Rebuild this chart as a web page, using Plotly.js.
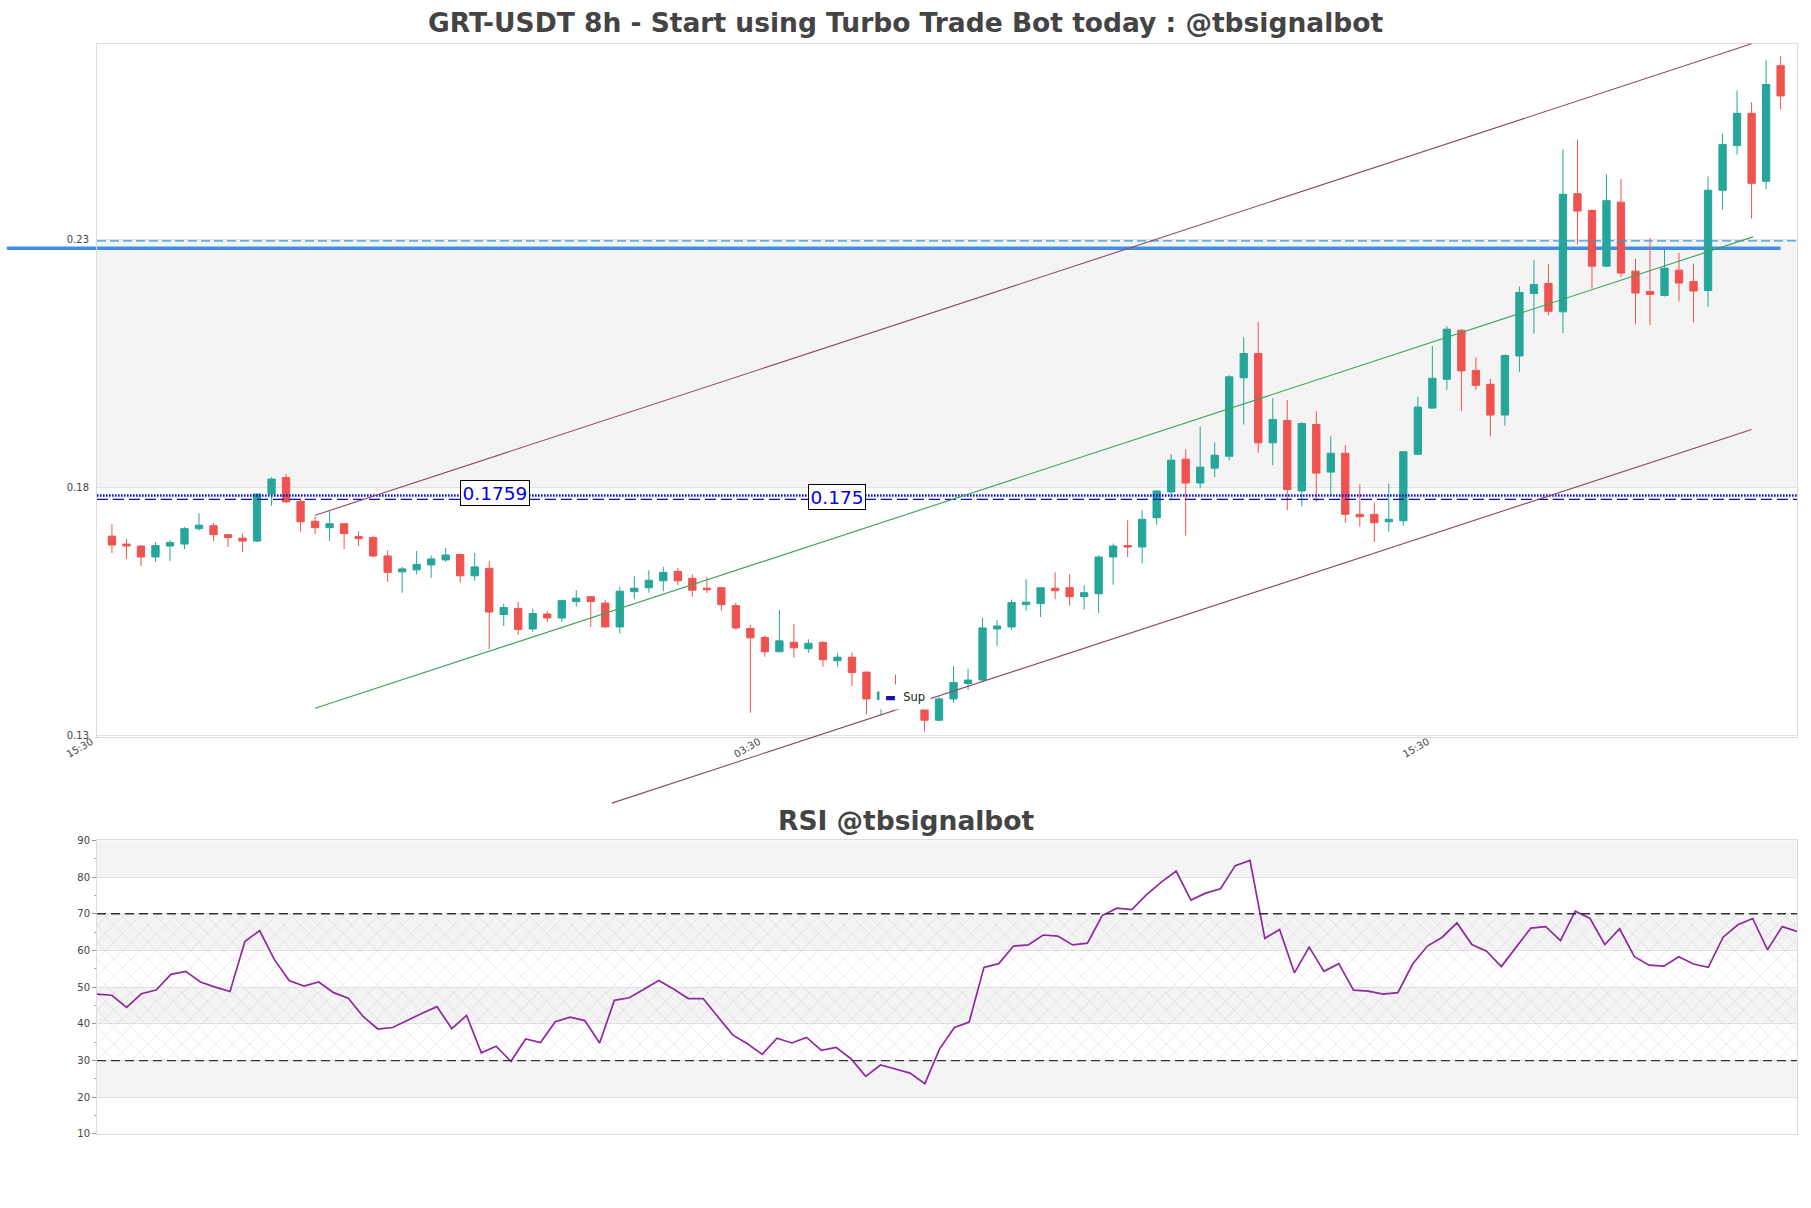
<!DOCTYPE html>
<html><head><meta charset="utf-8">
<script src="https://cdn.plot.ly/plotly-3.0.1.min.js"></script>
<style>html,body{margin:0;padding:0;background:#fff}#chart{width:1811px;height:1208px}</style>
</head><body><div id="chart"></div>
<script>
// ---------- DATA ----------
const openP = [0.1702,0.1686,0.1682,0.1660,0.1682,0.1686,0.1717,0.1723,0.1705,0.1698,
0.1692,0.1787,0.1820,0.1772,0.1732,0.1719,0.1727,0.1701,0.1699,0.1662,
0.1630,0.1634,0.1644,0.1654,0.1665,0.1622,0.1637,0.1544,0.1556,0.1515,
0.1545,0.1537,0.1570,0.1580,0.1567,0.1519,0.1590,0.1598,0.1612,0.1631,
0.1617,0.1597,0.1598,0.1562,0.1516,0.1498,0.1469,0.1488,0.1475,0.1488,
0.1451,0.1458,0.1428,0.1373,0.1392,0.1378,0.1358,0.1331,0.1374,0.1405,
0.1412,0.1515,0.1519,0.1564,0.1566,0.1597,0.1598,0.1580,0.1586,0.1660,
0.1683,0.1680,0.1739,0.1791,0.1857,0.1809,0.1839,0.1863,0.2021,0.2070,
0.1890,0.1935,0.1793,0.1927,0.1831,0.1869,0.1746,0.1746,0.1731,0.1733,
0.1867,0.1960,0.2018,0.2117,0.2036,0.2008,0.1946,0.2065,0.2191,0.2211,
0.2154,0.2392,0.2358,0.2246,0.2375,0.2236,0.2195,0.2187,0.2238,0.2215,
0.2197,0.2399,0.2489,0.2554,0.2417,0.2650];
const highP = [0.1726,0.1696,0.1684,0.1690,0.1694,0.1720,0.1748,0.1728,0.1706,0.1707,
0.1788,0.1821,0.1827,0.1779,0.1742,0.1753,0.1728,0.1712,0.1703,0.1673,
0.1640,0.1672,0.1663,0.1678,0.1667,0.1668,0.1652,0.1566,0.1569,0.1556,
0.1551,0.1574,0.1593,0.1581,0.1574,0.1600,0.1621,0.1633,0.1640,0.1638,
0.1625,0.1620,0.1600,0.1568,0.1523,0.1502,0.1553,0.1525,0.1494,0.1490,
0.1466,0.1467,0.1429,0.1403,0.1423,0.1400,0.1367,0.1378,0.1440,0.1435,
0.1538,0.1533,0.1574,0.1615,0.1599,0.1629,0.1625,0.1603,0.1663,0.1687,
0.1734,0.1754,0.1795,0.1867,0.1877,0.1923,0.1891,0.2026,0.2103,0.2133,
0.1980,0.1976,0.1932,0.1954,0.1903,0.1885,0.1806,0.1770,0.1808,0.1873,
0.1983,0.2085,0.2125,0.2119,0.2062,0.2019,0.2068,0.2205,0.2258,0.2250,
0.2481,0.2501,0.2361,0.2431,0.2421,0.2261,0.2303,0.2281,0.2273,0.2251,
0.2427,0.2513,0.2600,0.2576,0.2662,0.2669];
const lowP = [0.1668,0.1656,0.1642,0.1650,0.1652,0.1676,0.1713,0.1692,0.1680,0.1670,
0.1690,0.1763,0.1769,0.1711,0.1706,0.1692,0.1676,0.1682,0.1660,0.1610,
0.1588,0.1625,0.1618,0.1650,0.1608,0.1612,0.1474,0.1521,0.1503,0.1509,
0.1529,0.1529,0.1560,0.1519,0.1518,0.1506,0.1575,0.1588,0.1591,0.1603,
0.1580,0.1587,0.1552,0.1513,0.1346,0.1459,0.1468,0.1457,0.1467,0.1439,
0.1439,0.1400,0.1343,0.1341,0.1371,0.1354,0.1308,0.1329,0.1366,0.1392,
0.1410,0.1481,0.1513,0.1552,0.1539,0.1575,0.1562,0.1554,0.1547,0.1604,
0.1660,0.1647,0.1725,0.1774,0.1703,0.1798,0.1821,0.1855,0.1927,0.1870,
0.1845,0.1754,0.1762,0.1771,0.1782,0.1729,0.1721,0.1690,0.1711,0.1723,
0.1865,0.1959,0.1997,0.1954,0.1997,0.1903,0.1925,0.2033,0.2110,0.2147,
0.2111,0.2290,0.2201,0.2244,0.2224,0.2129,0.2127,0.2185,0.2175,0.2133,
0.2164,0.2360,0.2471,0.2342,0.2401,0.2562];
const closeP = [0.1684,0.1682,0.1660,0.1683,0.1689,0.1717,0.1724,0.1705,0.1699,0.1692,
0.1787,0.1817,0.1771,0.1731,0.1719,0.1727,0.1707,0.1697,0.1662,0.1629,
0.1636,0.1645,0.1656,0.1664,0.1622,0.1640,0.1549,0.1558,0.1514,0.1546,
0.1537,0.1572,0.1577,0.1570,0.1519,0.1591,0.1597,0.1613,0.1629,0.1612,
0.1593,0.1594,0.1564,0.1517,0.1497,0.1469,0.1491,0.1477,0.1486,0.1453,
0.1458,0.1427,0.1374,0.1388,0.1378,0.1360,0.1331,0.1374,0.1407,0.1412,
0.1517,0.1521,0.1568,0.1569,0.1598,0.1592,0.1580,0.1588,0.1660,0.1682,
0.1680,0.1736,0.1793,0.1855,0.1809,0.1841,0.1865,0.2023,0.2070,0.1890,
0.1937,0.1796,0.1929,0.1829,0.1869,0.1746,0.1741,0.1729,0.1736,0.1872,
0.1962,0.2020,0.2119,0.2035,0.2006,0.1946,0.2066,0.2193,0.2209,0.2155,
0.2391,0.2357,0.2246,0.2378,0.2232,0.2192,0.2189,0.2242,0.2212,0.2196,
0.2399,0.2491,0.2554,0.2413,0.2612,0.2589];
const rsiValues = [48.1,47.8,44.5,48.2,49.2,53.5,54.3,51.4,50.0,48.8,
62.4,65.4,57.5,51.8,50.3,51.4,48.5,47.0,42.0,38.6,
39.0,41.0,42.9,44.7,38.7,42.3,32.1,33.9,29.8,35.9,
34.9,40.6,41.8,40.9,34.8,46.4,47.1,49.4,51.8,49.5,
46.9,46.9,42.0,37.0,34.6,31.7,36.1,34.8,36.3,32.8,
33.6,30.5,25.7,28.8,27.7,26.6,23.7,33.2,39.0,40.5,
55.4,56.4,61.2,61.5,64.2,63.9,61.5,62.0,69.5,71.5,
71.1,75.2,78.6,81.6,73.7,75.6,76.8,83.1,84.5,63.3,
65.7,53.9,60.9,54.3,56.4,49.2,48.9,48.1,48.5,56.3,
61.2,63.6,67.5,61.6,59.8,55.6,60.9,66.1,66.5,62.7,
70.7,68.7,61.6,65.9,58.3,56.0,55.7,58.3,56.3,55.4,
63.6,67.0,68.7,60.2,66.5,65.2];

const xTickVals = [-1.0, 45.0, 91.1];
const xTickText = ['15:30', '03:30', '15:30'];
const priceTicks = [0.13, 0.18, 0.23];
const rsiTicks = [10, 20, 30, 40, 50, 60, 70, 80, 90];

const resistanceSolid = 0.2282;
const resistanceDashed = 0.2297;
const supportDotted = 0.1784;
const supportDashed = 0.1776;
const levelLabels = [{x: 26.4, y: 0.1789, text: '0.1759'}, {x: 50.0, y: 0.1780, text: '0.175'}];
const channelUpper = {x: [14, 113], y: [0.1744, 0.2694]};
const channelMid   = {x: [14, 113.1], y: [0.1355, 0.2305]};
const channelLower = {x: [34.45, 113], y: [0.1164, 0.1917]};
const rsiOverbought = 70, rsiOversold = 30;

// ---------- LAYOUT GEOMETRY ----------
const xRange = [-1.03, 116.13];
const yRange = [0.12966, 0.26937];
const mainDomain = [0.36394, 1];
const rsiDomain = [0, 0.26945];
const FONT = 'DejaVu Sans';

const idx = openP.map((_, i) => i);
const rsiIdx = rsiValues.map((_, i) => i);

function paperY(p) {
  return mainDomain[0] + (p - yRange[0]) / (yRange[1] - yRange[0]) * (mainDomain[1] - mainDomain[0]);
}
function paperX(i) { return (i - xRange[0]) / (xRange[1] - xRange[0]); }

const traces = [
  {
    type: 'candlestick', x: idx, open: openP, high: highP, low: lowP, close: closeP,
    xaxis: 'x', yaxis: 'y', whiskerwidth: 0,
    increasing: {line: {color: '#26a69a', width: 1}, fillcolor: '#26a69a'},
    decreasing: {line: {color: '#ef5350', width: 1}, fillcolor: '#ef5350'},
    hoverinfo: 'skip', showlegend: false
  },
  {
    type: 'bar', x: [57.5], y: [rsiOverbought - rsiOversold], base: [rsiOversold], width: [115],
    xaxis: 'x2', yaxis: 'y2', hoverinfo: 'skip', showlegend: false,
    marker: {color: 'rgba(0,0,0,0)', line: {width: 0},
      pattern: {shape: 'x', fgcolor: 'rgba(200,150,215,0.55)', bgcolor: 'rgba(0,0,0,0)', size: 12, solidity: 0.07}}
  },
  {
    type: 'scatter', mode: 'lines', x: rsiIdx, y: rsiValues, xaxis: 'x2', yaxis: 'y2',
    line: {color: '#8e2a9e', width: 1.7}, hoverinfo: 'skip', showlegend: false
  }
];

const shapes = [];
shapes.push({type: 'rect', xref: 'x domain', yref: 'y', x0: 0, x1: 1, y0: 0.18, y1: 0.23,
  fillcolor: '#f4f4f4', line: {width: 0}, layer: 'below'});
[[80, 90], [60, 70], [40, 50], [20, 30]].forEach(b => shapes.push({type: 'rect', xref: 'x2 domain', yref: 'y2',
  x0: 0, x1: 1, y0: b[0], y1: b[1], fillcolor: '#f4f4f4', line: {width: 0}, layer: 'below'}));
shapes.push({type: 'line', xref: 'paper', yref: 'y', x0: -0.053, x1: paperX(idx.length - 1),
  y0: resistanceSolid, y1: resistanceSolid, line: {color: '#3f8fe6', width: 3.5}, layer: 'below'});
shapes.push({type: 'line', xref: 'paper', yref: 'y', x0: 0, x1: 1, y0: resistanceDashed, y1: resistanceDashed,
  line: {color: '#2b9fd6', width: 1.3, dash: '9px,4px'}});
shapes.push({type: 'line', xref: 'paper', yref: 'y', x0: 0, x1: 1, y0: supportDotted, y1: supportDotted,
  line: {color: '#1414d0', width: 2.6, dash: '1.6px,1.4px'}});
shapes.push({type: 'line', xref: 'paper', yref: 'y', x0: 0, x1: 1, y0: supportDashed, y1: supportDashed,
  line: {color: '#0c0ca8', width: 1.4, dash: '11px,5px'}});
[[channelUpper, '#8c4a66'], [channelMid, '#3aa35a'], [channelLower, '#8c4a66']].forEach(([c, col]) =>
  shapes.push({type: 'line', xref: 'x', yref: 'paper', x0: c.x[0], x1: c.x[1], y0: paperY(c.y[0]), y1: paperY(c.y[1]),
    line: {color: col, width: 1.1}}));
[rsiOverbought, rsiOversold].forEach(v => shapes.push({type: 'line', xref: 'x2 domain', yref: 'y2', x0: 0, x1: 1,
  y0: v, y1: v, line: {color: '#333', width: 1.3, dash: '9px,5px'}}));

const annotations = levelLabels.map(l => ({
  x: l.x, y: l.y, xref: 'x', yref: 'y', text: l.text, showarrow: false,
  font: {family: FONT, size: 18.5, color: '#0000ee'}, bgcolor: '#ffffff', bordercolor: '#000', borderwidth: 1, borderpad: 1.5
}));
annotations.push({
  xref: 'paper', yref: 'paper', x: (879 - 97) / 1700, y: paperY(0.1378), xanchor: 'left', yanchor: 'middle',
  text: '<span style="color:#1010b0">▬</span>  Sup', showarrow: false, bgcolor: '#ffffff', borderpad: 5,
  font: {family: FONT, size: 11.5, color: '#222'}
});
annotations.push({
  xref: 'paper', yref: 'paper', x: (906 - 97) / 1700, y: 0.288, xanchor: 'center', yanchor: 'middle',
  text: 'RSI @tbsignalbot', showarrow: false, font: {family: FONT, size: 26.5, color: '#444', weight: 'bold'}
});

const layout = {
  width: 1811, height: 1208,
  margin: {l: 97, r: 14, t: 44, b: 74},
  paper_bgcolor: '#ffffff', plot_bgcolor: '#ffffff',
  font: {family: FONT, color: '#444'},
  showlegend: false, boxgap: 0.28,
  title: {text: 'GRT-USDT 8h - Start using Turbo Trade Bot today : @tbsignalbot',
    font: {family: FONT, size: 26.5, color: '#444', weight: 'bold'},
    x: 0.5, xref: 'container', xanchor: 'center', y: 1 - 23 / 1208, yref: 'container', yanchor: 'middle'},
  xaxis: {domain: [0, 1], anchor: 'y', range: xRange, rangeslider: {visible: false},
    tickmode: 'array', tickvals: xTickVals, ticktext: xTickText, tickangle: -30,
    ticklabelshift: -6, ticklabelstandoff: -6,
    tickfont: {family: FONT, size: 10, color: '#444'}, showgrid: false, zeroline: false,
    showline: true, mirror: true, linecolor: '#dcdcdc', linewidth: 1, ticks: ''},
  yaxis: {domain: mainDomain, anchor: 'x', range: yRange, tickmode: 'array', tickvals: priceTicks,
    ticktext: priceTicks.map(v => v.toFixed(2)), tickfont: {family: FONT, size: 10, color: '#444'},
    ticklabelstandoff: 5,
    showgrid: true, gridcolor: '#e2e2e2', zeroline: false, showline: true, mirror: true, linecolor: '#dcdcdc', ticks: ''},
  xaxis2: {domain: [0, 1], anchor: 'y2', range: [0, rsiValues.length - 1], showticklabels: false, showgrid: false,
    zeroline: false, showline: true, mirror: true, linecolor: '#dcdcdc', ticks: ''},
  yaxis2: {domain: rsiDomain, anchor: 'x2', range: [10, 90], tickmode: 'array', tickvals: rsiTicks,
    tickfont: {family: FONT, size: 10, color: '#444'}, ticks: 'outside', ticklen: 4, tickcolor: '#999',
    minor: {tickmode: 'array', tickvals: [15, 25, 35, 45, 55, 65, 75, 85], ticks: 'outside', ticklen: 2.5, tickcolor: '#aaa', showgrid: false},
    showgrid: true, gridcolor: '#e2e2e2', zeroline: false, showline: true, mirror: true, linecolor: '#dcdcdc'},
  shapes: shapes, annotations: annotations
};

Plotly.newPlot('chart', traces, layout, {displayModeBar: false, staticPlot: true});
</script></body></html>
